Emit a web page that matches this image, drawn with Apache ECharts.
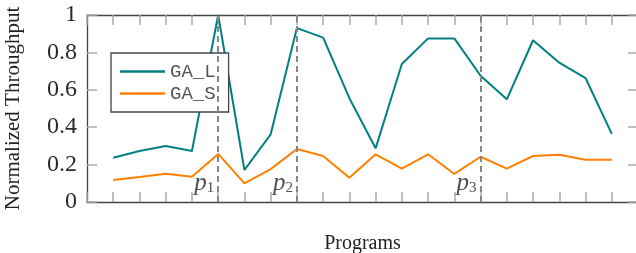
<!DOCTYPE html>
<html lang="en">
<head>
<meta charset="utf-8">
<title>Normalized Throughput</title>
<script src="https://cdn.jsdelivr.net/npm/echarts@6/dist/echarts.min.js"></script>
<style>
  html, body { margin: 0; padding: 0; background: #fff; }
  #main { width: 636px; height: 253px; }
</style>
</head>
<body>
<div id="main"></div>
<script type="text/javascript">
// program index on the x axis (0..19)
const programs = [0, 1, 2, 3, 4, 5, 6, 7, 8, 9, 10, 11, 12, 13, 14, 15, 16, 17, 18, 19];
const gaL = [0.237, 0.273, 0.300, 0.273, 1.000, 0.171, 0.362, 0.930, 0.879, 0.555,
             0.287, 0.738, 0.875, 0.875, 0.675, 0.549, 0.865, 0.745, 0.663, 0.364];
const gaS = [0.118, 0.134, 0.151, 0.135, 0.257, 0.100, 0.176, 0.283, 0.246, 0.130,
             0.255, 0.178, 0.255, 0.150, 0.242, 0.178, 0.246, 0.253, 0.226, 0.226];
// marked programs p1, p2, p3
const markerIdx = [4, 7, 14];
const markerSub = ['1', '2', '3'];

const serif = '"Liberation Serif", "Times New Roman", serif';
const frameColor = '#444';
const tickColor = '#aaa';

function frameAxis(extra) {
    return Object.assign({
        axisLine: { show: true, onZero: false, lineStyle: { color: frameColor, width: 1.3 } },
        axisTick: { show: true, inside: true, length: 10, lineStyle: { color: tickColor, width: 1.5 } },
        splitLine: { show: false }
    }, extra);
}

let chart = echarts.init(document.getElementById('main'));

let option = {
    animation: false,
    grid: { left: 87, right: -2, top: 15, bottom: 51, containLabel: false, outerBoundsMode: 'none' },
    legend: {
        data: ['GA_L', 'GA_S'],
        orient: 'vertical',
        left: 111,
        top: 53,
        padding: [9, 13, 9, 9],
        itemGap: 3,
        itemWidth: 45,
        itemHeight: 2.5,
        icon: 'rect',
        backgroundColor: '#fff',
        borderColor: frameColor,
        borderWidth: 1.3,
        textStyle: { fontFamily: '"Liberation Mono", "Courier New", monospace', fontSize: 19, color: '#555' }
    },
    xAxis: [
        frameAxis({
            type: 'value', min: -1, max: 20, interval: 1,
            axisLabel: { show: false },
            name: 'Programs', nameLocation: 'middle', nameGap: 32,
            nameTextStyle: { fontFamily: serif, fontSize: 20, color: '#222' }
        }),
        frameAxis({
            type: 'value', position: 'top', min: -1, max: 20, interval: 1,
            axisLabel: { show: false }
        })
    ],
    yAxis: [
        frameAxis({
            type: 'value', min: 0, max: 1, interval: 0.2,
            axisLabel: {
                margin: 10, fontFamily: serif, fontSize: 24, color: '#2a2a2a',
                formatter: (v) => String(parseFloat(v.toFixed(1)))
            },
            name: 'Normalized Throughput', nameLocation: 'middle', nameGap: 63,
            nameTextStyle: { fontFamily: serif, fontSize: 21, color: '#222' }
        }),
        frameAxis({
            type: 'value', position: 'right', min: 0, max: 1, interval: 0.2,
            axisLabel: { show: false }
        })
    ],
    series: [
        {
            name: 'GA_L', type: 'line', symbol: 'none',
            color: '#008080',
            lineStyle: { width: 2, color: '#008080' },
            data: programs.map((p, i) => [p, gaL[i]])
        },
        {
            name: 'GA_S', type: 'line', symbol: 'none',
            color: '#ff8000',
            lineStyle: { width: 2, color: '#ff8000' },
            data: programs.map((p, i) => [p, gaS[i]])
        },
        {
            name: 'markers', type: 'scatter', symbolSize: 0, silent: true,
            data: markerIdx.map((p, i) => ({ value: [p, 0.1], sub: markerSub[i] })),
            label: {
                show: true, position: 'left', distance: 4,
                formatter: (d) => '{p|p}{s|' + d.data.sub + '}',
                rich: {
                    p: { fontFamily: serif, fontStyle: 'italic', fontSize: 25, color: '#222' },
                    s: { fontFamily: serif, fontSize: 15, color: '#222', padding: [9, 0, 0, 0] }
                }
            },
            markLine: {
                silent: true, symbol: 'none',
                label: { show: false },
                lineStyle: { color: '#888', width: 2, type: [6, 4] },
                data: markerIdx.map((p) => ({ xAxis: p }))
            }
        }
    ]
};

chart.setOption(option);
</script>
</body>
</html>
